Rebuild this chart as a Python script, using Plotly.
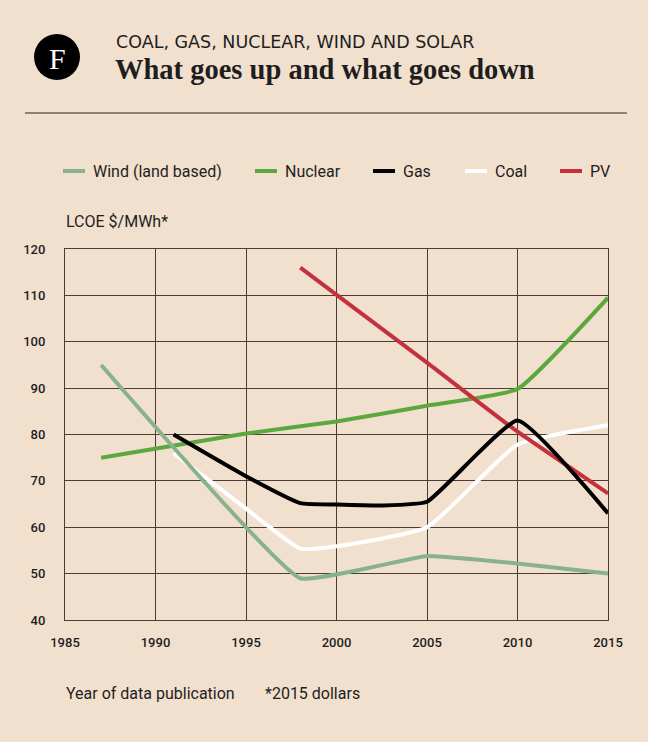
import plotly.graph_objects as go

# ---- data ----
wind_years = [1987, 1998, 2005, 2010, 2015]
wind_vals = [95, 49, 53.8, 52.2, 50]

nuclear_years = [1987, 1995, 2000, 2005, 2010, 2015]
nuclear_vals = [75, 80.2, 82.8, 86.2, 89.8, 109.5]

gas_years = [1991, 1995, 1998, 2000, 2002.5, 2005, 2010, 2015]
gas_vals = [80, 71, 65.2, 64.9, 64.7, 65.5, 83, 63]

coal_years = [1991, 1995, 1998, 2000, 2005, 2010, 2015]
coal_vals = [76, 64, 55.4, 55.9, 60, 77.8, 82]

pv_years = [1998, 2005, 2010, 2015]
pv_vals = [116, 95.5, 80.6, 67.3]

x_ticks = [1985, 1990, 1995, 2000, 2005, 2010, 2015]
y_ticks = [40, 50, 60, 70, 80, 90, 100, 110, 120]

series = [
    ("Nuclear", nuclear_years, nuclear_vals, "#5ca83e", 0.4),
    ("Coal", coal_years, coal_vals, "#ffffff", 0.45),
    ("Wind (land based)", wind_years, wind_vals, "#88b28c", 0.3),
    ("PV", pv_years, pv_vals, "#c2313d", 0.3),
    ("Gas", gas_years, gas_vals, "#000000", 0.4),
]
legend_order = ["Wind (land based)", "Nuclear", "Gas", "Coal", "PV"]

BG = "#f2e0ce"
GRID = "#4a3d36"
TXT = "#1e1e1e"
W, H = 648, 742
L, R, T, B = 65, 40, 249, 122
PW, PH = W - L - R, H - T - B


def px(x):
    return (x - L) / PW


def py(y):
    return (H - B - y) / PH


fig = go.Figure()
for name, xs, ys, col, sm in series:
    fig.add_trace(go.Scatter(
        x=xs, y=ys, name=name, mode="lines",
        line=dict(color=col, width=4, shape="spline", smoothing=sm),
        showlegend=False, hoverinfo="x+y+name",
    ))

shapes = []
annotations = []

# logo
shapes.append(dict(type="circle", xref="paper", yref="paper",
                   x0=px(34), x1=px(80), y0=py(80), y1=py(34),
                   fillcolor="#000000", line=dict(width=0)))
annotations.append(dict(text="F", xref="paper", yref="paper", x=px(57), y=py(58),
                        xanchor="center", yanchor="middle", showarrow=False,
                        font=dict(family="Liberation Serif", size=30, color="#ffffff")))
# subtitle & title
annotations.append(dict(text="COAL, GAS, NUCLEAR, WIND AND SOLAR", xref="paper", yref="paper",
                        x=px(114), y=py(42), xanchor="left", yanchor="middle", showarrow=False,
                        font=dict(family="DejaVu Sans", size=17.5, color=TXT)))
annotations.append(dict(text="<b>What goes up and what goes down</b>", xref="paper", yref="paper",
                        x=px(113), y=py(70), xanchor="left", yanchor="middle", showarrow=False,
                        font=dict(family="Liberation Serif", size=28.5, color=TXT)))
# rule
shapes.append(dict(type="line", xref="paper", yref="paper",
                   x0=px(25), x1=px(627), y0=py(113), y1=py(113),
                   line=dict(color="#8c8175", width=2)))

# manual legend
leg_pos = {"Wind (land based)": 63, "Nuclear": 255, "Gas": 373, "Coal": 465, "PV": 560}
colmap = {s[0]: s[3] for s in series}
for name in legend_order:
    x0 = leg_pos[name]
    shapes.append(dict(type="line", xref="paper", yref="paper",
                       x0=px(x0), x1=px(x0 + 22), y0=py(171), y1=py(171),
                       line=dict(color=colmap[name], width=4)))
    annotations.append(dict(text=name, xref="paper", yref="paper", x=px(x0 + 28), y=py(171),
                            xanchor="left", yanchor="middle", showarrow=False,
                            font=dict(family="Roboto", size=16, color=TXT)))

annotations.append(dict(text="LCOE $/MWh*", xref="paper", yref="paper", x=px(64), y=py(222),
                        xanchor="left", yanchor="middle", showarrow=False,
                        font=dict(family="Roboto", size=16, color=TXT)))
annotations.append(dict(text="Year of data publication", xref="paper", yref="paper", x=px(64), y=py(693),
                        xanchor="left", yanchor="middle", showarrow=False,
                        font=dict(family="Roboto", size=16, color=TXT)))
annotations.append(dict(text="*2015 dollars", xref="paper", yref="paper", x=px(263), y=py(693),
                        xanchor="left", yanchor="middle", showarrow=False,
                        font=dict(family="Roboto", size=16, color=TXT)))

fig.update_layout(
    width=W, height=H,
    margin=dict(l=L, r=R, t=T, b=B),
    paper_bgcolor=BG, plot_bgcolor=BG,
    showlegend=False,
    shapes=shapes, annotations=annotations,
    font=dict(family="Roboto", color=TXT),
)
fig.update_xaxes(range=[1985, 2015], tickvals=x_ticks, ticktext=[str(v) for v in x_ticks],
                 showgrid=True, gridcolor=GRID, gridwidth=1,
                 showline=True, linecolor=GRID, linewidth=1, mirror=True,
                 ticks="", ticklabelstandoff=10,
                 tickfont=dict(family="Roboto", size=13, color=TXT, weight=500), zeroline=False)
fig.update_yaxes(range=[40, 120], tickvals=y_ticks,
                 showgrid=True, gridcolor=GRID, gridwidth=1,
                 showline=True, linecolor=GRID, linewidth=1, mirror=True,
                 ticks="", ticklabelstandoff=16,
                 tickfont=dict(family="Roboto", size=13, color=TXT, weight=500), zeroline=False)

fig.write_html(
    "out.html",
    config={"displayModeBar": False},
    post_script="document.body.style.margin='0';document.body.style.background='" + BG + "';",
)
